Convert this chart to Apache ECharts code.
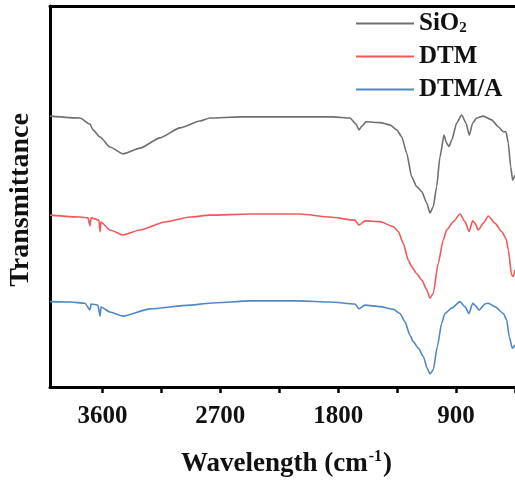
<!DOCTYPE html>
<html>
<head>
<meta charset="utf-8">
<script src="https://cdn.jsdelivr.net/npm/echarts@6/dist/echarts.min.js"></script>
<style>
html,body{margin:0;padding:0;background:#fff;}
#c{width:515px;height:481px;}
</style>
</head>
<body>
<div id="c"></div>
<script>
// Wavenumber axis (cm-1), reversed; ticks every 450, labels every 900
const xMin = 450, xMax = 4000, tickStep = 450;
const labelTicks = [3600, 2700, 1800, 900];

const seriesNames = ['SiO2', 'DTM', 'DTM/A'];
const seriesColors = ['#6f6f6f', '#f0595b', '#4f88c8'];

// SiO2 spectrum (arbitrary transmittance units, offset)
const sio2Wn = [4000,3771,3695,3672,3618,3542,3443,3313,3160,3008,2855,2779,2550,2092,1840,1710,1664,1641,1618,1588,1481,1404,1353,1315,1277,1239,1201,1162,1124,1099,1074,1048,1023,992,972,954,933,895,857,824,799,773,743,692,628,578,539,519,501,483,468,450];
const sio2Val = [71.1,70.6,69.0,67.5,65.6,63.0,61.2,62.7,65.4,68.0,69.8,70.6,70.9,70.9,70.9,70.6,69.0,67.5,68.5,69.6,69.4,68.8,67.5,65.7,61.4,55.2,52.6,51.3,48.3,45.7,47.3,52.6,60.4,66.1,64.0,63.1,64.8,69.3,71.4,69.3,66.1,69.3,70.6,71.1,70.1,68.3,67.0,67.0,64.0,57.8,54.3,55.6];

// DTM spectrum
const dtmWn = [4000,3771,3710,3695,3687,3626,3618,3611,3542,3443,3313,3122,2931,2779,2473,2092,1863,1672,1641,1595,1481,1379,1341,1303,1265,1239,1201,1162,1124,1099,1074,1036,998,972,921,870,832,801,773,756,730,692,654,603,552,519,501,476,463,450];
const dtmVal = [45.1,44.6,44.4,42.3,44.4,43.8,40.7,43.3,41.2,39.9,41.2,43.3,44.6,45.1,45.4,45.4,44.6,43.8,42.5,43.6,43.4,42.1,40.8,37.7,33.3,31.6,29.8,28.1,25.5,23.3,24.6,32.5,38.6,41.2,43.4,45.4,43.4,40.8,43.6,43.0,41.2,43.0,44.9,43.0,40.8,39.0,36.0,29.4,29.0,30.7];

// DTM/A spectrum
const dtmaWn = [4000,3847,3733,3695,3687,3634,3618,3611,3542,3443,3237,2931,2779,2473,2092,1863,1672,1641,1595,1481,1379,1328,1290,1252,1227,1188,1150,1120,1099,1074,1043,1010,985,933,870,832,801,773,756,725,679,654,603,539,513,494,471,450];
const dtmaVal = [22.4,22.3,22.0,20.2,21.8,21.5,18.6,21.0,19.7,18.6,20.5,21.5,22.0,22.6,22.6,22.3,21.8,20.5,21.5,21.1,20.4,19.3,17.1,13.6,11.9,10.2,8.0,4.9,3.4,4.5,10.6,16.7,19.3,20.7,22.4,21.1,19.3,22.0,21.5,20.2,21.8,22.0,21.1,19.3,17.6,13.2,10.2,11.0];

const allWn = [sio2Wn, dtmWn, dtmaWn];
const allVal = [sio2Val, dtmVal, dtmaVal];

const FONT = '"Liberation Serif","Times New Roman",serif';

const chart = echarts.init(document.getElementById('c'), null, {renderer: 'canvas'});

const series = seriesNames.map((name, i) => ({
  name: name,
  type: 'line',
  data: allWn[i].map((w, k) => [w, allVal[i][k]]),
  showSymbol: false,
  smooth: 0.2,
  smoothMonotone: 'x',
  lineStyle: {color: seriesColors[i], width: 1.6},
  itemStyle: {color: seriesColors[i]},
  animation: false
}));

chart.setOption({
  backgroundColor: '#ffffff',
  animation: false,
  grid: {left: 50, right: 0, top: 6, bottom: 94, containLabel: false, outerBoundsMode: 'none'},
  legend: {
    orient: 'vertical',
    left: 351,
    top: 4,
    icon: 'rect',
    itemWidth: 58,
    itemHeight: 2,
    itemGap: 8,
    data: seriesNames,
    formatter: function (n) {
      if (n === 'SiO2') return '{m|SiO}{s|2}';
      return '{m|' + n + '}';
    },
    textStyle: {
      fontFamily: FONT,
      fontWeight: 'bold',
      fontSize: 25,
      color: '#111',
      rich: {
        m: {fontFamily: FONT, fontWeight: 'bold', fontSize: 25, color: '#111', lineHeight: 25},
        s: {fontFamily: FONT, fontWeight: 'bold', fontSize: 15, color: '#111', lineHeight: 25, verticalAlign: 'bottom', padding: [12, 0, 0, 0]}
      }
    }
  },
  xAxis: [
    {
      type: 'value',
      inverse: true,
      min: xMin,
      max: xMax,
      interval: tickStep,
      position: 'bottom',
      name: '{m|Wavelength (cm}{s|-1}{m|)}',
      nameLocation: 'middle',
      nameGap: 62,
      nameTextStyle: {
        fontFamily: FONT,
        fontWeight: 'bold',
        fontSize: 27,
        color: '#111',
        padding: [0, 0, 0, 8],
        rich: {
          m: {fontFamily: FONT, fontWeight: 'bold', fontSize: 27, color: '#111', lineHeight: 30},
          s: {fontFamily: FONT, fontWeight: 'bold', fontSize: 16, color: '#111', lineHeight: 30, verticalAlign: 'top', padding: [0, 1, 12, 1]}
        }
      },
      axisLine: {show: true, onZero: false, lineStyle: {color: '#000', width: 3}},
      axisTick: {show: true, inside: false, length: 6, lineStyle: {color: '#000', width: 2.5}},
      axisLabel: {
        show: true,
        showMinLabel: true,
        showMaxLabel: false,
        formatter: function (v) { return labelTicks.indexOf(v) >= 0 ? String(v) : ''; },
        margin: 17,
        fontFamily: FONT,
        fontWeight: 'bold',
        fontSize: 25,
        color: '#111'
      },
      splitLine: {show: false}
    },
    {
      type: 'value',
      inverse: true,
      min: xMin,
      max: xMax,
      position: 'top',
      axisLine: {show: true, onZero: false, lineStyle: {color: '#000', width: 3}},
      axisTick: {show: false},
      axisLabel: {show: false},
      splitLine: {show: false}
    }
  ],
  yAxis: {
    type: 'value',
    min: 0,
    max: 100,
    name: 'Transmittance',
    nameLocation: 'middle',
    nameGap: 15,
    nameRotate: 90,
    nameTextStyle: {fontFamily: FONT, fontWeight: 'bold', fontSize: 28, color: '#111', padding: [0, 7, 0, 0]},
    axisLine: {show: true, onZero: false, lineStyle: {color: '#000', width: 3}},
    axisTick: {show: false},
    axisLabel: {show: false},
    splitLine: {show: false}
  },
  series: series
});
</script>
</body>
</html>
